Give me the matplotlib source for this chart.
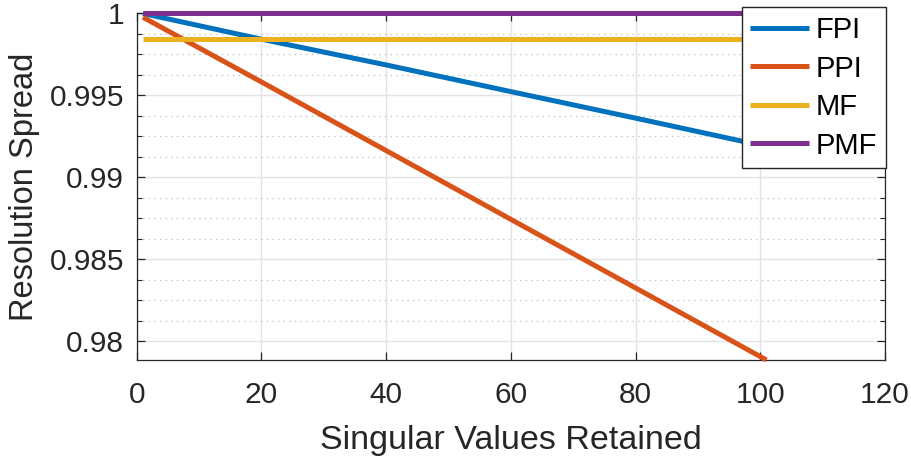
import numpy as np
import matplotlib
matplotlib.use('Agg')
import matplotlib.pyplot as plt
from matplotlib.ticker import MultipleLocator

plt.rcParams['font.family'] = ['Liberation Sans', 'DejaVu Sans']

# Resolution spread versus number of singular values kept
sv_kept = [1, 20, 40, 60, 80, 101]
fpi = [1.0, 0.99843, 0.99686, 0.99523, 0.99361, 0.99188]
ppi = [0.99977, 0.99582, 0.99163, 0.98743, 0.98324, 0.97884]
mf = [0.99843, 0.99843, 0.99843, 0.99843, 0.99843, 0.99843]
pmf = [1.0, 1.0, 1.0, 1.0, 1.0, 1.0]

series = [('FPI', fpi, '#0072BD'),
          ('PPI', ppi, '#D95319'),
          ('MF', mf, '#EDB120'),
          ('PMF', pmf, '#7E2F8E')]

x_ticks = [0, 20, 40, 60, 80, 100, 120]
y_ticks = [0.98, 0.985, 0.99, 0.995, 1.0]
y_labels = ['0.98', '0.985', '0.99', '0.995', '1']

fig = plt.figure(figsize=(9.12, 4.62), dpi=100)
ax = fig.add_axes([0.1499, 0.2208, 0.9703 - 0.1499, 0.9708 - 0.2208])

for name, vals, color in series:
    ax.plot(sv_kept, vals, color=color, linewidth=3.6, label=name,
            clip_on=False, solid_capstyle='butt', zorder=3)

ax.set_xlim(0, 120)
ax.set_ylim(0.97884, 1.0)
ax.set_xticks(x_ticks)
ax.set_yticks(y_ticks)
ax.set_yticklabels(y_labels)
ax.yaxis.set_minor_locator(MultipleLocator(0.00125))

ax.grid(True, which='major', color='#e3e3e3', linewidth=1.0, linestyle='-')
ax.yaxis.grid(True, which='minor', color='#bdbdbd', linewidth=0.9,
              linestyle=(0, (1, 3.5)))
ax.set_axisbelow(True)

ax.tick_params(which='major', direction='in', top=True, right=True,
               length=6, width=0.9, color='#262626', labelsize=21.5,
               labelcolor='#262626')
ax.tick_params(axis='y', which='major', pad=9)
ax.tick_params(axis='x', which='major', pad=15)
ax.tick_params(which='minor', direction='in', left=True, right=True,
               length=3.5, width=0.8, color='#262626')
for sp in ax.spines.values():
    sp.set_color('#262626')
    sp.set_linewidth(0.9)

ax.set_xlabel('Singular Values Retained', fontsize=24.5, color='#262626',
              labelpad=12)
ax.set_ylabel('Resolution Spread', fontsize=23.5, color='#262626',
              labelpad=7)

leg = ax.legend(loc='upper right', bbox_to_anchor=(0.9715, 0.9842),
                bbox_transform=fig.transFigure, borderaxespad=0,
                fontsize=21, frameon=True, fancybox=False, framealpha=1,
                edgecolor='#262626', handlelength=2.0, handletextpad=0.25,
                labelspacing=0.36, borderpad=0.3)
leg.get_frame().set_linewidth(1.0)
leg.set_zorder(5)

fig.savefig('out.png', dpi=100)
